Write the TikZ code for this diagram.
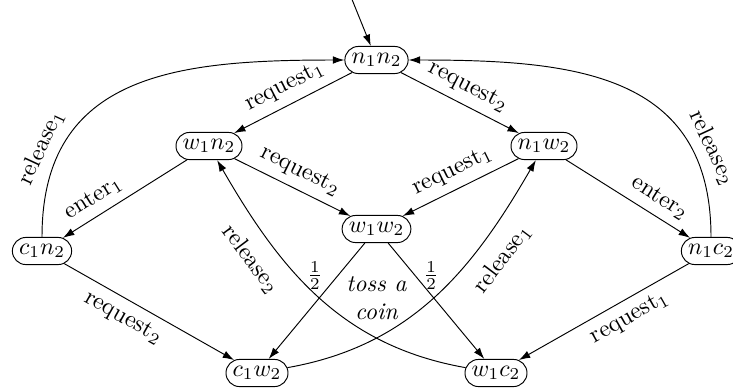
\documentclass[tikz,border=0pt]{standalone}
\usetikzlibrary{shapes.misc,arrows.meta}
\begin{document}
\begin{tikzpicture}[x=0.42pt,y=0.42pt,
  state/.style={draw, rounded rectangle, inner xsep=2pt, inner ysep=2.8pt},
  edge/.style={-{Latex[length=4.8pt,width=3.2pt]}}]
\useasboundingbox (0,0) rectangle (733,-391);
\node[state] (n1n2) at (376.5,-60) {$n_1n_2$};
\node[state] (w1n2) at (209,-146) {$w_1n_2$};
\node[state] (n1w2) at (544,-146) {$n_1w_2$};
\node[state] (w1w2) at (376.5,-229) {$w_1w_2$};
\node[state] (c1n2) at (42,-251) {$c_1n_2$};
\node[state] (n1c2) at (711,-251) {$n_1c_2$};
\node[state] (c1w2) at (257,-373) {$c_1w_2$};
\node[state] (w1c2) at (496,-373) {$w_1c_2$};
\node[font=\itshape,align=center] (toss) at (376.5,-298) {toss a\\coin};
\coordinate (init) at (349,8);
\draw[edge] (init) -- (n1n2);
\draw[edge] (n1n2) -- node[sloped,above]{request$_1$} (w1n2);
\draw[edge] (n1n2) -- node[sloped,above]{request$_2$} (n1w2);
\draw[edge] (w1n2) -- node[sloped,above,pos=0.68]{enter$_1$} (c1n2);
\draw[edge] (n1w2) -- node[sloped,above,pos=0.68]{enter$_2$} (n1c2);
\draw[edge] (w1n2) -- node[sloped,above]{request$_2$} (w1w2);
\draw[edge] (n1w2) -- node[sloped,above]{request$_1$} (w1w2);
\draw[edge] (c1n2) -- node[sloped,below,pos=0.4]{request$_2$} (c1w2);
\draw[edge] (n1c2) -- node[sloped,below,pos=0.4]{request$_1$} (w1c2);
\draw[edge] (w1w2) -- node[left,pos=0.28,xshift=-3pt]{$\frac12$} (c1w2);
\draw[edge] (w1w2) -- node[right,pos=0.28]{$\frac12$} (w1c2);
\draw[edge] (c1n2) to[out=90,in=180,looseness=1.2] node[sloped,above,pos=0.2]{release$_1$} (n1n2);
\draw[edge] (n1c2) to[out=90,in=0,looseness=1.2] node[sloped,above,pos=0.2]{release$_2$} (n1n2);
\draw[edge] (c1w2) to[out=10,in=-120] node[sloped,below=3pt,pos=0.72]{release$_1$} (n1w2);
\draw[edge] (w1c2) to[out=170,in=-60] node[sloped,below=3pt,pos=0.72]{release$_2$} (w1n2);
\end{tikzpicture}
\end{document}
